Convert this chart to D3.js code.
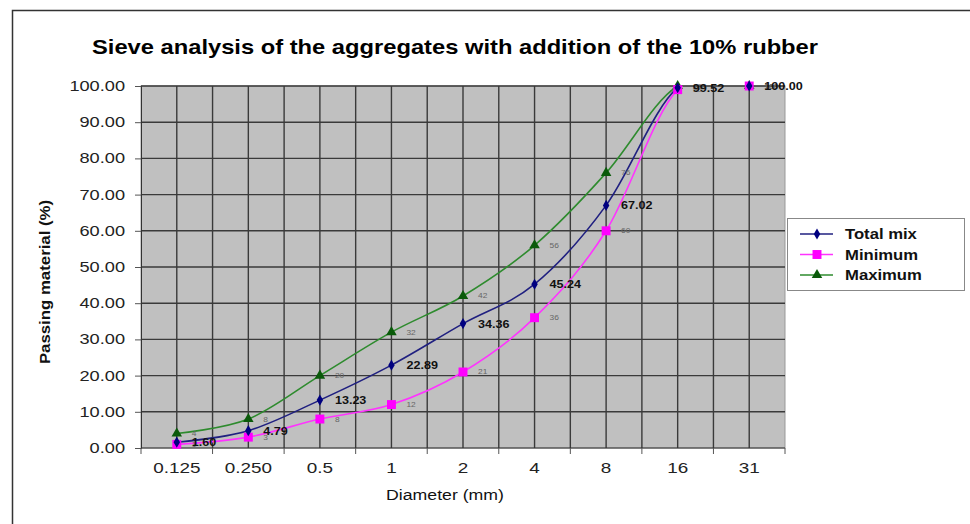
<!DOCTYPE html>
<html>
<head>
<meta charset="utf-8">
<script src="https://cdn.jsdelivr.net/npm/d3@7"></script>
<style>
  body { margin: 0; background: #fff; }
  text { font-family: "Liberation Sans", Arial, sans-serif; }
</style>
</head>
<body>
<div id="chart"></div>
<script>
"use strict";

// sieve sizes (mm) and passing material (%)
const sieves = ["0.125", "0.250", "0.5", "1", "2", "4", "8", "16", "31"];
const totalMix = [1.60, 4.79, 13.23, 22.89, 34.36, 45.24, 67.02, 99.52, 100.00];
const minimum = [1, 3, 8, 12, 21, 36, 60, 99, 100];
const maximum = [4, 8, 20, 32, 42, 56, 76, 100, 100];
const yTicks = [0, 10, 20, 30, 40, 50, 60, 70, 80, 90, 100];

const W = 970, H = 524;
const margin = {top: 86, right: 185, bottom: 76, left: 141};

// the original picture is a bit wider than tall, so texts get a horizontal stretch
function place(sel, x, y, sx) {
  return sel.attr("transform", `translate(${x},${y}) scale(${sx},1)`);
}

const svg = d3.select("#chart").append("svg")
  .attr("width", W).attr("height", H);

// outer frame
svg.append("path")
  .attr("d", `M${W},10.5 H12.5 V${H}`)
  .attr("fill", "none").attr("stroke", "#333").attr("stroke-width", 1.5);

const x = d3.scaleBand().domain(sieves).range([margin.left, W - margin.right]);
const y = d3.scaleLinear().domain([0, 100]).range([H - margin.bottom, margin.top]);
const cx = d => x(d) + x.bandwidth() / 2;

// plot area
svg.append("rect")
  .attr("x", x.range()[0]).attr("y", y(100))
  .attr("width", x.range()[1] - x.range()[0]).attr("height", y(0) - y(100))
  .attr("fill", "#c0c0c0").attr("stroke", "#999");

svg.append("clipPath").attr("id", "plotClip").append("rect")
  .attr("x", x.range()[0]).attr("y", y(100))
  .attr("width", x.range()[1] - x.range()[0]).attr("height", y(0) - y(100));

// grid
const grid = svg.append("g").attr("stroke", "#3a3a3a").attr("stroke-width", 1.4);
grid.selectAll(".h").data(yTicks.slice(1)).enter().append("line")
  .attr("x1", x.range()[0]).attr("x2", x.range()[1])
  .attr("y1", d => y(d)).attr("y2", d => y(d));
const vLines = [];
sieves.forEach((s, i) => { if (i > 0) vLines.push(x(s)); vLines.push(cx(s)); });
grid.selectAll(".v").data(vLines).enter().append("line")
  .attr("x1", d => d).attr("x2", d => d)
  .attr("y1", y(0)).attr("y2", y(100));

// y axis
const yAxis = svg.append("g")
  .attr("transform", `translate(${margin.left},0)`)
  .call(d3.axisLeft(y).tickValues(yTicks).tickFormat("").tickSize(6));
yAxis.select(".domain").attr("stroke", "#333");
yAxis.selectAll(".tick line").attr("stroke", "#555");
svg.selectAll(".ylab").data(yTicks).enter().append("text")
  .each(function(d) { place(d3.select(this), 125, y(d) + 5, 1.3); })
  .attr("text-anchor", "end").attr("font-size", 14).attr("fill", "#222")
  .text(d => d3.format(".2f")(d));

// x axis
const xAxis = svg.append("g").attr("transform", `translate(0,${y(0)})`);
xAxis.append("line")
  .attr("x1", x.range()[0]).attr("x2", x.range()[1])
  .attr("stroke", "#333").attr("stroke-width", 1.2);
xAxis.selectAll(".tk").data(sieves.map(s => x(s)).concat([x.range()[1]])).enter().append("line")
  .attr("x1", d => d).attr("x2", d => d).attr("y1", 0).attr("y2", 6)
  .attr("stroke", "#555");
xAxis.selectAll(".lb").data(sieves).enter().append("text")
  .each(function(d) { place(d3.select(this), cx(d), 25, 1.35); })
  .attr("text-anchor", "middle").attr("font-size", 14).attr("fill", "#222")
  .text(d => d);

// title and axis titles
place(svg.append("text"), 455, 54, 1.13)
  .attr("text-anchor", "middle").attr("font-size", 21).attr("font-weight", "bold")
  .text("Sieve analysis of the aggregates with addition of the 10% rubber");
svg.append("text")
  .attr("transform", "translate(50,282) rotate(-90) scale(1.2,1)")
  .attr("text-anchor", "middle").attr("font-size", 14).attr("font-weight", "bold")
  .attr("fill", "#111")
  .text("Passing material (%)");
place(svg.append("text"), 445, 500, 1.22)
  .attr("text-anchor", "middle").attr("font-size", 14.5).attr("fill", "#111")
  .text("Diameter (mm)");

// series
const series = [
  {name: "Maximum", values: maximum, color: "#2e8b2e", mark: "#0a5a0a", symbol: d3.symbolTriangle, size: 48, label: d => d3.format("d")(d), bold: false},
  {name: "Minimum", values: minimum, color: "#ff33ff", mark: "#ff00ff", symbol: d3.symbolSquare, size: 80, label: d => d3.format("d")(d), bold: false},
  {name: "Total mix", values: totalMix, color: "#202080", mark: "#000080", symbol: d3.symbolDiamond, size: 36, label: d => d3.format(".2f")(d), bold: true}
];

const line = d3.line()
  .x((d, i) => cx(sieves[i]))
  .y(d => y(d))
  .curve(d3.curveCardinal.tension(0));

const lines = svg.append("g").attr("clip-path", "url(#plotClip)");
series.forEach(s => {
  lines.append("path")
    .attr("d", line(s.values))
    .attr("fill", "none").attr("stroke", s.color).attr("stroke-width", 1.6);
});

series.forEach(s => {
  svg.selectAll(null).data(s.values).enter().append("path")
    .attr("transform", (d, i) => `translate(${cx(sieves[i])},${y(d)})`)
    .attr("d", d3.symbol().type(s.symbol).size(s.size))
    .attr("fill", s.mark);
});

series.forEach(s => {
  svg.selectAll(null).data(s.values).enter().append("text")
    .each(function(d, i) { place(d3.select(this), cx(sieves[i]) + 15, y(d) + (s.bold ? 4 : 2.5), 1.2); })
    .attr("font-size", s.bold ? 10.5 : 7)
    .attr("font-weight", s.bold ? "bold" : "normal")
    .attr("fill", s.bold ? "#111" : "#666")
    .text(s.label);
});

// legend
const legend = svg.append("g");
legend.append("rect")
  .attr("x", 787.5).attr("y", 218.5).attr("width", 177).attr("height", 72)
  .attr("fill", "#fff").attr("stroke", "#888");
const legendOrder = [series[2], series[1], series[0]];
legendOrder.forEach((s, i) => {
  const ly = 234 + i * 20.5;
  legend.append("line")
    .attr("x1", 800).attr("x2", 833).attr("y1", ly).attr("y2", ly)
    .attr("stroke", s.color).attr("stroke-width", 1.6);
  legend.append("path")
    .attr("transform", `translate(817,${ly})`)
    .attr("d", d3.symbol().type(s.symbol).size(s.size))
    .attr("fill", s.mark);
  place(legend.append("text"), 845, ly + 5, 1.15)
    .attr("font-size", 14.5).attr("font-weight", "bold").attr("fill", "#111")
    .text(s.name);
});
</script>
</body>
</html>
